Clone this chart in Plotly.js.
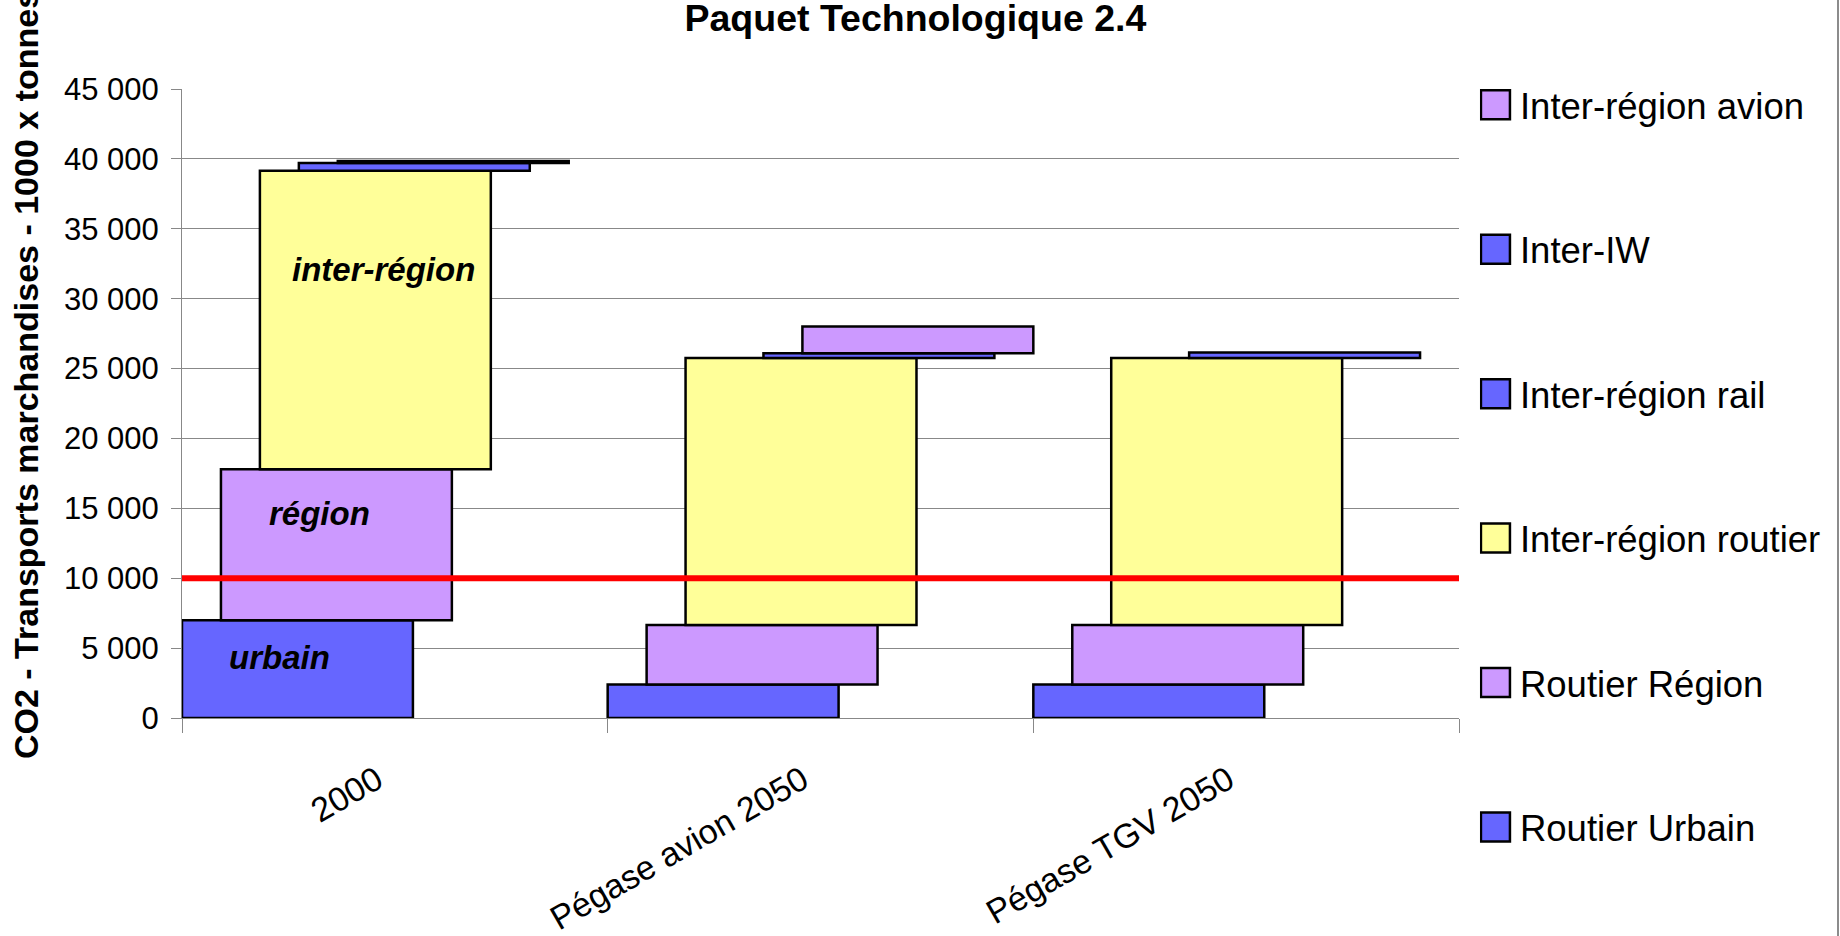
<!DOCTYPE html>
<html>
<head>
<meta charset="utf-8">
<script src="https://cdn.plot.ly/plotly-3.0.1.min.js"></script>
<style>
  html, body { margin: 0; padding: 0; background: #ffffff; }
  #chart { width: 1840px; height: 936px; }
</style>
</head>
<body>
<div id="chart"></div>
<script>
// ---- Data ----
const categories = ['2000', 'Pégase avion 2050', 'Pégase TGV 2050'];
const seriesNames = ['Routier Urbain', 'Routier Région', 'Inter-région routier', 'Inter-région rail', 'Inter-IW', 'Inter-région avion'];
const routierUrbain = [7000, 2400, 2400];
const routierRegion = [10800, 4250, 4250];
const interRegionRoutier = [21350, 19100, 19100];
const interRegionRail = [550, 0, 0];
const interIW = [150, 350, 400];
const interRegionAvion = [0, 1900, 0];
const seuil = 10000;
const barLabels = ['urbain', 'région', 'inter-région'];
const titleText = 'Paquet Technologique 2.4';
const yTitleText = 'CO2 - Transports marchandises - 1000 x tonnes';

// ---- Styling ----
const colors = ['#6666FF', '#CC99FF', '#FFFF99', '#6666FF', '#6666FF', '#CC99FF'];
const FONT = '"Liberation Sans", Arial, sans-serif';
const step = 0.0915, barW = 0.5425;

const seriesValues = [routierUrbain, routierRegion, interRegionRoutier, interRegionRail, interIW, interRegionAvion];
const cum = categories.map(() => 0);
const traces = seriesValues.map((vals, i) => {
  const base = cum.slice();
  vals.forEach((v, j) => { cum[j] += v; });
  return {
    type: 'bar',
    name: seriesNames[i],
    x: categories,
    y: vals.map(v => (v > 0 ? v : null)),
    base: base,
    offset: -0.5 + i * step,
    width: barW,
    marker: { color: colors[i], line: { color: '#000000', width: 2.5 } },
    legendgroup: 'g' + i,
    legendrank: (seriesValues.length - i) * 10,
    hoverinfo: 'skip'
  };
});

const layout = {
  width: 1840,
  height: 936,
  paper_bgcolor: '#ffffff',
  plot_bgcolor: '#ffffff',
  separators: ', ',
  font: { family: FONT, color: '#000000', size: 30 },
  barmode: 'overlay',
  margin: { l: 182, r: 381, t: 89, b: 218, autoexpand: false },
  title: {
    text: '<b>' + titleText + '</b>',
    font: { family: FONT, size: 37.5, color: '#000000' },
    x: 0.4975, xref: 'container', xanchor: 'center',
    y: 0.9945, yref: 'container', yanchor: 'top',
    pad: { t: 0, b: 0 }
  },
  xaxis: {
    type: 'category',
    range: [-0.5, 2.5],
    showgrid: false,
    showline: true, linecolor: '#888888', linewidth: 1,
    ticks: 'outside', tickson: 'boundaries', ticklen: 14, tickcolor: '#888888', tickwidth: 1,
    tickangle: -30,
    ticklabelstandoff: 28,
    ticklabelshift: -18,
    tickfont: { family: FONT, size: 34, color: '#000000' },
    zeroline: false,
    fixedrange: true
  },
  yaxis: {
    range: [0, 45000],
    dtick: 5000,
    tickformat: ',d',
    showgrid: true, gridcolor: '#888888', gridwidth: 1,
    showline: true, linecolor: '#888888', linewidth: 1,
    ticks: 'outside', ticklen: 10, tickcolor: '#888888', tickwidth: 1,
    ticklabelstandoff: 6,
    tickfont: { family: FONT, size: 31, color: '#000000' },
    zeroline: false,
    fixedrange: true
  },
  legend: {
    x: 1.0164, xref: 'paper', xanchor: 'left',
    y: 1.023, yanchor: 'top',
    traceorder: 'grouped',
    tracegroupgap: 94,
    maxheight: 920,
    font: { family: FONT, size: 36.5, color: '#000000' },
    bgcolor: 'rgba(0,0,0,0)',
    borderwidth: 0
  },
  shapes: [
    { type: 'line', xref: 'paper', yref: 'y', x0: 0, x1: 1, y0: seuil, y1: seuil,
      line: { color: '#FF0000', width: 6 }, layer: 'above' },
    { type: 'line', xref: 'paper', yref: 'paper', x0: (1838 - 182) / 1277, x1: (1838 - 182) / 1277,
      y0: -0.35, y1: 1.15, line: { color: '#8c8c8c', width: 2 } }
  ],
  annotations: [
    { text: '<b><i>' + barLabels[0] + '</i></b>', x: -0.272, y: 4360, xref: 'x', yref: 'y',
      showarrow: false, font: { family: FONT, size: 33, color: '#000000' } },
    { text: '<b><i>' + barLabels[1] + '</i></b>', x: -0.176, y: 14660, xref: 'x', yref: 'y',
      showarrow: false, font: { family: FONT, size: 33, color: '#000000' } },
    { text: '<b><i>' + barLabels[2] + '</i></b>', x: -0.026, y: 32120, xref: 'x', yref: 'y',
      showarrow: false, font: { family: FONT, size: 33, color: '#000000' } },
    { text: '<b>' + yTitleText + '</b>', xref: 'paper', yref: 'paper',
      x: (26 - 182) / 1277, y: (718 - 375) / 629, xanchor: 'center', yanchor: 'middle',
      textangle: -90, showarrow: false, font: { family: FONT, size: 34, color: '#000000' } }
  ]
};

function enlargeLegendSymbols() {
  document.querySelectorAll('#chart .legend .legendpoints path').forEach(p => {
    p.setAttribute('d', 'M10,14.5H-19V-14.5H10Z');
    p.style.strokeWidth = '2.5px';
  });
}

Plotly.newPlot('chart', traces, layout, { displayModeBar: false, staticPlot: true }).then(gd => {
  enlargeLegendSymbols();
  gd.on('plotly_afterplot', enlargeLegendSymbols);
});
</script>
</body>
</html>
